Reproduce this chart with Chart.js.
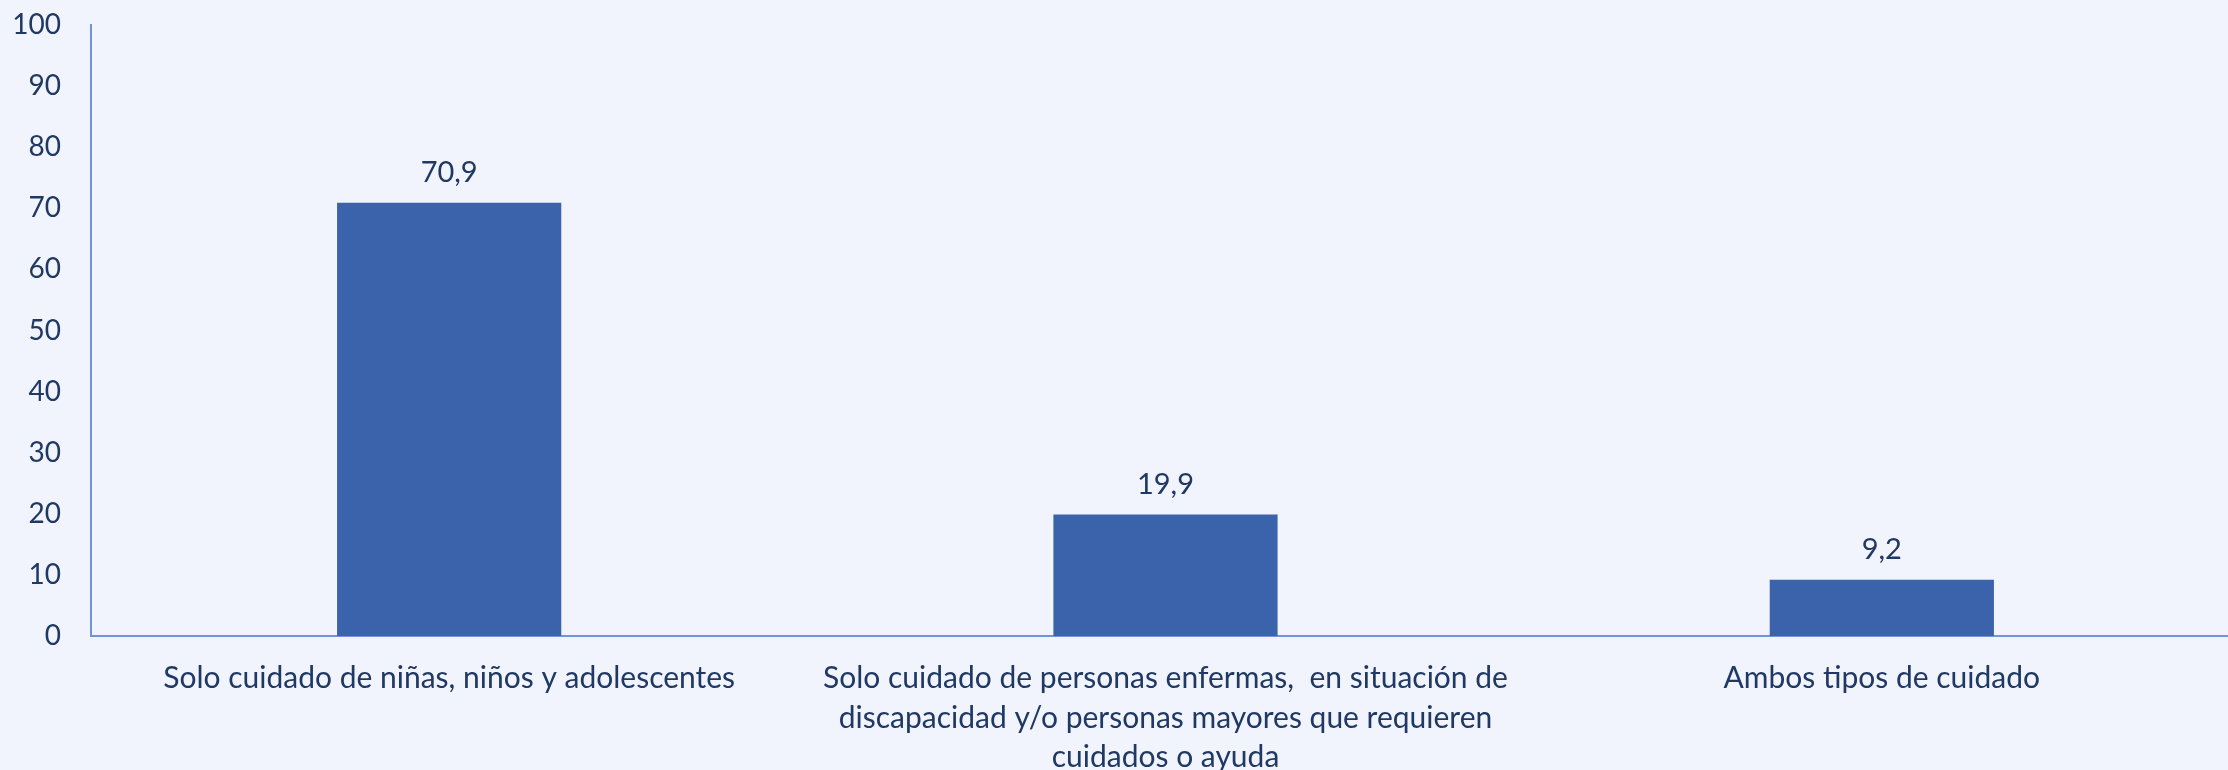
<!DOCTYPE html>
<html>
<head>
<meta charset="utf-8">
<script src="https://cdn.jsdelivr.net/npm/chart.js@4"></script>
<style>
  html, body { margin: 0; padding: 0; background: #f1f4fd; overflow: hidden; }
  #wrap { position: absolute; left: 0; top: 0; width: 2240px; height: 770px; }
</style>
</head>
<body>
<div id="wrap"><canvas id="chart"></canvas></div>
<script>
const categories = [
  "Solo cuidado de niñas, niños y adolescentes",
  ["Solo cuidado de personas enfermas,  en situación de",
   "discapacidad y/o personas mayores que requieren",
   "cuidados o ayuda"],
  "Ambos tipos de cuidado",
];
const values = [70.9, 19.9, 9.2];
const yTicks = [0, 10, 20, 30, 40, 50, 60, 70, 80, 90, 100];

const textColor = "#1f3864";
const barColor = "#3b63ab";
const axisColor = "#7096d8";

// etiquetas de valor encima de cada barra
const valueLabels = {
  id: "valueLabels",
  afterDatasetsDraw(chart) {
    const ctx = chart.ctx;
    const meta = chart.getDatasetMeta(0);
    ctx.save();
    ctx.font = "29px Lato";
    ctx.fillStyle = textColor;
    ctx.textAlign = "center";
    ctx.textBaseline = "middle";
    meta.data.forEach((bar, i) => {
      const txt = values[i].toFixed(1).replace(".", ",");
      ctx.fillText(txt, bar.x, bar.y - 30);
    });
    ctx.restore();
  },
};

new Chart(document.getElementById("chart"), {
  type: "bar",
  data: {
    labels: categories,
    datasets: [
      {
        data: values,
        backgroundColor: barColor,
        borderWidth: 0,
        categoryPercentage: 1,
        barPercentage: 0.313,
      },
    ],
  },
  options: {
    responsive: true,
    maintainAspectRatio: false,
    animation: false,
    layout: { padding: { top: 25, left: 0, right: 0, bottom: 0 } },
    plugins: {
      legend: { display: false },
      tooltip: { enabled: false },
    },
    scales: {
      x: {
        grid: { display: false, drawTicks: false },
        border: { color: axisColor, width: 2 },
        ticks: {
          color: textColor,
          font: { family: "Lato", size: 30, lineHeight: 1.33 },
          padding: 22,
          maxRotation: 0,
          autoSkip: false,
        },
        afterFit: (axis) => {
          axis.height = 134;
          axis.paddingLeft = 0;
          axis.paddingRight = 0;
        },
      },
      y: {
        min: 0,
        max: 100,
        afterBuildTicks: (axis) => {
          axis.ticks = yTicks.map((v) => ({ value: v }));
        },
        grid: { display: false, drawTicks: false },
        border: { color: axisColor, width: 2 },
        ticks: {
          color: textColor,
          font: { family: "Lato", size: 28 },
          padding: 30,
        },
        afterFit: (axis) => {
          axis.width = 91;
          axis.paddingTop = 0;
          axis.paddingBottom = 0;
        },
      },
    },
  },
  plugins: [valueLabels],
});
</script>
</body>
</html>
